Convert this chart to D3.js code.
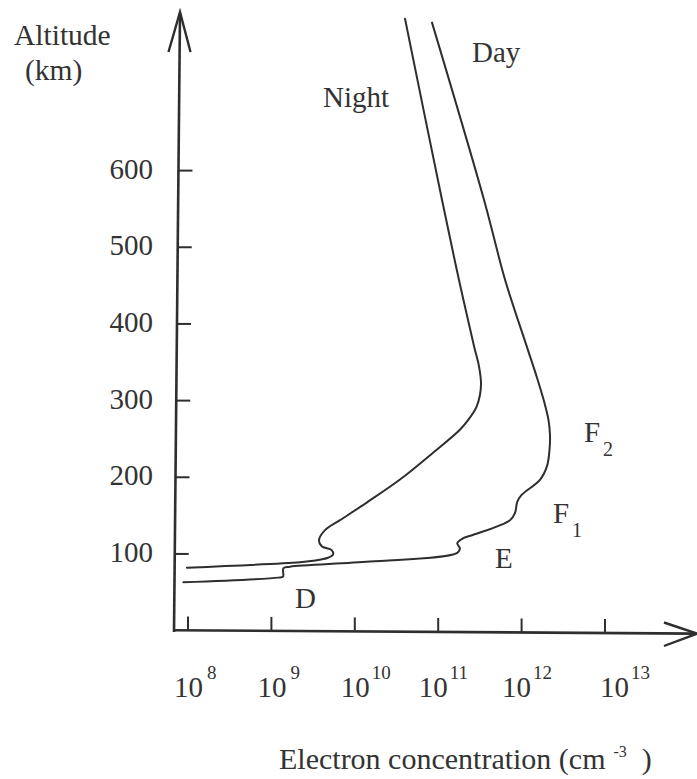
<!DOCTYPE html>
<html>
<head>
<meta charset="utf-8">
<script src="https://cdn.jsdelivr.net/npm/d3@7"></script>
<style>
  html, body { margin: 0; padding: 0; background: #fff; }
  svg { display: block; }
</style>
</head>
<body>
<div id="chart"></div>
<script>
// ---- data (electron concentration in cm^-3, altitude in km) ----
const nightConc = [4.0e10, 1.11e11, 1.77e11, 2.69e11, 3.08e11, 3.26e11, 3.17e11, 2.88e11, 2.34e11, 1.82e11, 8.67e10,
                   3.48e10, 1.39e10, 6.65e9, 4.40e9, 3.72e9, 4.01e9, 5.28e9, 5.48e9, 4.78e9, 3.16e9, 2.20e9, 9.7e7];
const nightAlt  = [798, 562, 458, 371, 345, 323, 307.6, 291.9, 276.2, 262, 232,
                   197, 167, 144, 131, 118, 110, 105, 99, 95, 91, 89, 82];

const dayConc = [8.43e10, 3.54e11, 6.32e11, 1.15e12, 1.53e12, 1.88e12, 2.10e12, 2.19e12, 2.16e12, 2.02e12, 1.66e12,
                 1.00e12, 8.87e11, 8.34e11, 7.26e11, 2.64e11, 2.00e11, 1.69e11, 1.82e11, 1.67e11, 1.52e10,
                 1.67e9, 1.39e9, 1.38e9, 1.21e9, 8.8e7];
const dayAlt  = [793, 562, 458, 371, 329.8, 297.1, 274.9, 255.4, 235.8, 214.9, 196.6,
                 177, 168, 153.5, 144, 125, 120.5, 114, 107.4, 101, 90,
                 83.4, 81.3, 70.4, 69.1, 63.1];

const xTickExps = [8, 9, 10, 11, 12, 13];
const yTickValues = [100, 200, 300, 400, 500, 600];

// region labels: name, subscript, log10 concentration, altitude
const regionNames = ["D", "E", "F", "F"];
const regionSubs  = ["", "", "1", "2"];
const regionLogN  = [9.283, 11.681, 12.376, 12.748];
const regionAlt   = [29.5, 82.1, 140.9, 246.6];

const curveNames = ["Night", "Day"];
const curveLabelLogN = [9.619, 11.405];
const curveLabelAlt  = [683.5, 742.3];

// ---- layout ----
const W = 697, H = 779;
const ink = "#2e2e2e";
const txt = "#333";
const FONT = "'Liberation Serif', Tinos, 'Times New Roman', Times, 'DejaVu Serif', serif";
const x = d3.scaleLog().domain([1e8, 1e13]).range([188, 605]);
const y = d3.scaleLinear().domain([0, 600]).range([630.6, 170.6]);

// slight skew of the scanned axes
const yAxisX = py => 174 + (632 - py) * 6 / 620;
const xAxisY = px => 630.3 + (px - 174) * 0.0063;

const svg = d3.select("#chart").append("svg").attr("width", W).attr("height", H)
  .attr("font-family", FONT).style("font-family", FONT).attr("fill", txt);

// axes lines
svg.append("line").attr("x1", yAxisX(632)).attr("y1", 632).attr("x2", yAxisX(13)).attr("y2", 13)
  .attr("stroke", ink).attr("stroke-width", 2.6);
svg.append("line").attr("x1", 173).attr("y1", xAxisY(173)).attr("x2", 696).attr("y2", xAxisY(696))
  .attr("stroke", ink).attr("stroke-width", 2.6);

// arrow heads (open)
svg.append("path").attr("d", `M168.5,52 L${yAxisX(12)},12 L190.5,52`)
  .attr("fill", "none").attr("stroke", ink).attr("stroke-width", 2.4);
svg.append("path").attr("d", `M664,622.5 L697,${xAxisY(697)} L664,646`)
  .attr("fill", "none").attr("stroke", ink).attr("stroke-width", 2.4);

function addText(sel) {
  return sel.append("text").attr("font-family", FONT).style("font-family", FONT).attr("fill", txt);
}

// y ticks
yTickValues.forEach(v => {
  const py = y(v);
  const x0 = yAxisX(py);
  svg.append("line").attr("x1", x0).attr("y1", py).attr("x2", x0 + 14).attr("y2", py)
    .attr("stroke", ink).attr("stroke-width", 2);
  addText(svg).attr("x", 153).attr("y", py + 8).attr("text-anchor", "end")
    .attr("font-size", 29).text(v);
});

// x ticks
xTickExps.forEach(e => {
  const px = x(Math.pow(10, e));
  const y0 = xAxisY(px);
  svg.append("line").attr("x1", px).attr("y1", y0).attr("x2", px).attr("y2", y0 - 14)
    .attr("stroke", ink).attr("stroke-width", 2);
  const nudge = e <= 10 ? -14 : (e === 13 ? -5 : -19.5);
  const t = addText(svg).attr("x", px + nudge).attr("y", 697).attr("font-size", 29);
  t.append("tspan").text("10");
  t.append("tspan").attr("dx", e < 10 ? 4 : 2).attr("dy", -18).attr("font-size", 19).text(e);
});

// curves
const line = d3.line()
  .x(d => x(d[0])).y(d => y(d[1]))
  .curve(d3.curveCatmullRom.alpha(0.5));

const nightData = nightConc.map((c, i) => [c, nightAlt[i]]);
const dayData = dayConc.map((c, i) => [c, dayAlt[i]]);

[nightData, dayData].forEach(data => {
  svg.append("path").datum(data).attr("d", line)
    .attr("fill", "none").attr("stroke", ink).attr("stroke-width", 2)
    .attr("stroke-linejoin", "round").attr("stroke-linecap", "round");
});

// curve labels
curveNames.forEach((n, i) => {
  addText(svg).attr("x", x(Math.pow(10, curveLabelLogN[i]))).attr("y", y(curveLabelAlt[i]))
    .attr("font-size", 29).text(n);
});

// region labels
regionNames.forEach((n, i) => {
  const t = addText(svg).attr("x", x(Math.pow(10, regionLogN[i]))).attr("y", y(regionAlt[i]))
    .attr("font-size", 29);
  t.append("tspan").text(n);
  if (regionSubs[i]) {
    t.append("tspan").attr("dx", 3).attr("dy", 14).attr("font-size", 20).text(regionSubs[i]);
  }
});

// axis titles
addText(svg).attr("x", 14).attr("y", 45).attr("font-size", 29.5).text("Altitude");
addText(svg).attr("x", 25).attr("y", 80).attr("font-size", 29.5).text("(km)");

const xt = addText(svg).attr("x", 279).attr("y", 769).attr("font-size", 30);
xt.append("tspan").text("Electron concentration (cm");
xt.append("tspan").attr("dx", 8).attr("dy", -12.5).attr("font-size", 16).text("-3");
xt.append("tspan").attr("dx", 15).attr("dy", 12.5).text(")");
</script>
</body>
</html>
